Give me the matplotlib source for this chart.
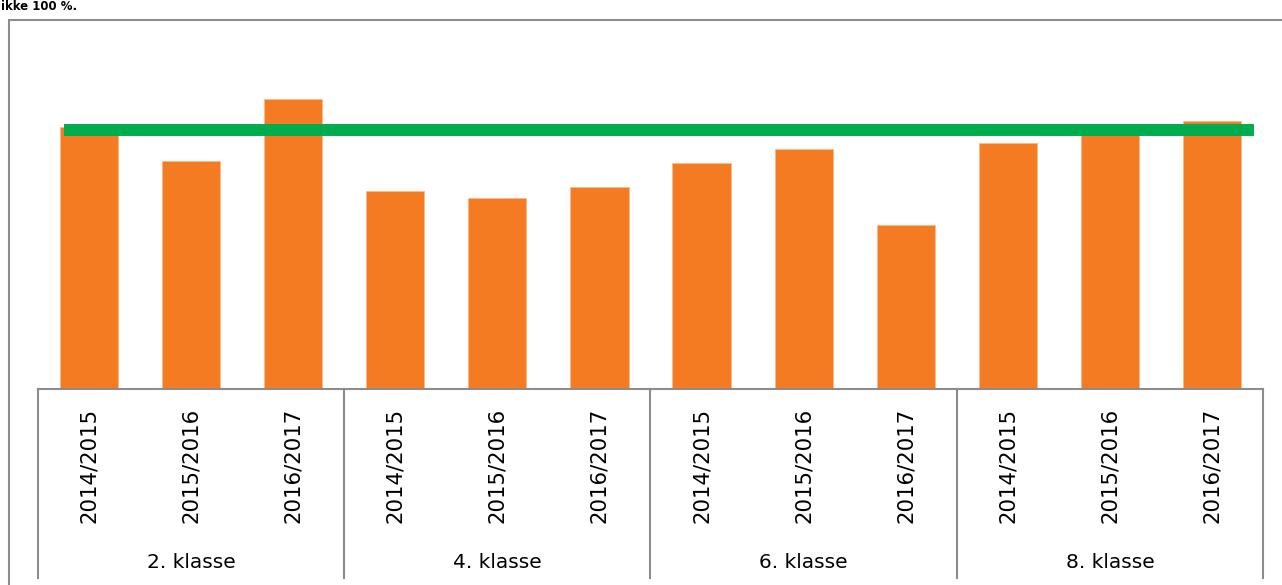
import matplotlib
matplotlib.use("Agg")
import matplotlib.pyplot as plt
from matplotlib.transforms import blended_transform_factory
from matplotlib.patches import Rectangle

years = ["2014/2015", "2015/2016", "2016/2017"]
groups = ["2. klasse", "4. klasse", "6. klasse", "8. klasse"]
values = [72.8, 63.3, 80.6, 54.9, 53.1, 56.0, 62.8, 66.7, 45.5, 68.3, 71.1, 74.4]
target_value = 71.9
title_fragment = "ikke 100 %."

W, H = 1282, 585
fig = plt.figure(figsize=(W / 100, H / 100), dpi=100)
fig.patch.set_facecolor("white")

def fy(px):
    return 1 - px / H

def fx(px):
    return px / W

ax = fig.add_axes([fx(38), fy(389), fx(1263) - fx(38), fy(29) - fy(389)])
n = len(values)
xs = list(range(n))
ax.bar(xs, values, width=0.57, color="#F47B22", edgecolor="#F9B98A", linewidth=0.6, zorder=2)
ax.plot([-0.245, n - 1 + 0.41], [target_value, target_value], color="#00AD4E",
        linewidth=8.6, solid_capstyle="butt", zorder=3)
ax.set_xlim(-0.5, n - 0.5)
ax.set_ylim(0, 100)
for s in ["top", "left", "right"]:
    ax.spines[s].set_visible(False)
ax.spines["bottom"].set_color("#8C8C8C")
ax.spines["bottom"].set_linewidth(1.5)
ax.set_xticks([])
ax.set_yticks([])

tr = blended_transform_factory(ax.transData, fig.transFigure)
ng = len(groups)
per = len(years)
# group separators
for b in range(ng + 1):
    xb = b * per - 0.5
    ax.plot([xb, xb], [fy(389), fy(578)], transform=tr, color="#8C8C8C",
            linewidth=1.5, clip_on=False)
# year labels
for i in range(n):
    ax.text(i, fy(465), years[i % per], transform=tr, rotation=90,
            ha="center", va="center", fontsize=15.3, color="black")
# group labels
for g in range(ng):
    ax.text(g * per + (per - 1) / 2, fy(562), groups[g], transform=tr,
            ha="center", va="center", fontsize=14.5, color="black")

# outer chart border
fig.patches.append(Rectangle((fx(8.5), -0.1), 1.2, fy(19.5) + 0.1,
                             transform=fig.transFigure, fill=False,
                             edgecolor="#8C8C8C", linewidth=1.5))
# title text from document above
fig.text(fx(1), fy(10), title_fragment, fontsize=8.5, fontweight="bold",
         ha="left", va="baseline", color="black")

fig.savefig("out.png", dpi=100, facecolor="white")
